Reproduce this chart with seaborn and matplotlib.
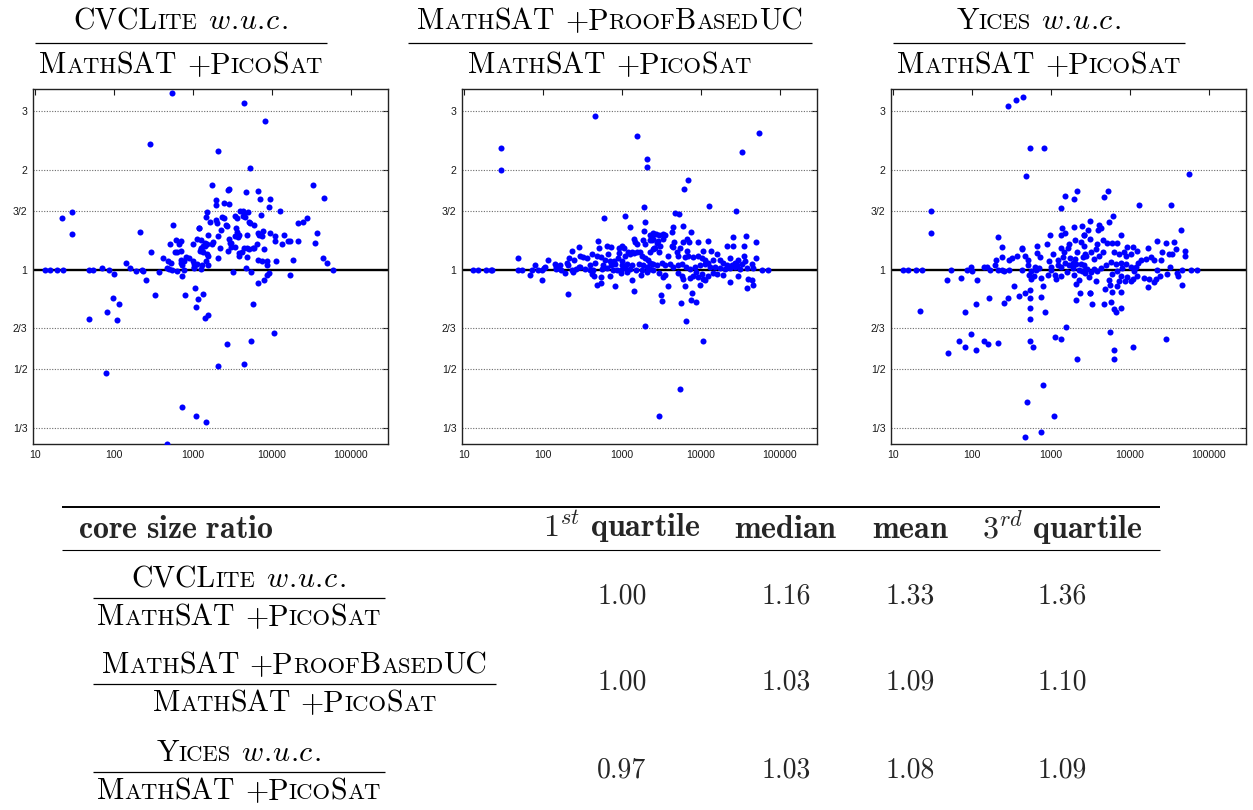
import matplotlib
matplotlib.use("Agg")
import matplotlib.pyplot as plt
import seaborn as sns
import pandas as pd
from matplotlib.lines import Line2D
from matplotlib.transforms import IdentityTransform
from matplotlib.ticker import FixedLocator, FixedFormatter, NullLocator

# ---------------- data ----------------
cvclite_size = [547, 4380, 8240, 285, 2090, 5320, 1740, 33000, 2750, 2860, 6650, 4690, 6980, 9340, 45500,
                1940, 1940, 2470, 2860, 9250, 12500, 3940, 4260, 4970, 1490, 4470, 29.4, 22.0, 1460, 2350,
                1950, 3400, 3640, 4340, 7190, 4590, 1640, 2010, 2470, 5160, 5270, 21500, 24700, 28000, 5970,
                2590, 2670, 553, 1200, 2260, 3500, 3600, 3820, 213, 29.7, 1550, 2050, 2830, 2940, 3430,
                3680, 4830, 6650, 6780, 7550, 7770, 9530, 10800, 10800, 14300, 15800, 16900, 21300, 37500, 35400,
                13500, 6400, 8000, 4420, 4880, 5800, 6000, 5160, 4830, 3790, 3850, 4150, 3430, 3060, 2800,
                3000, 2200, 2090, 1770, 1740, 1400, 1270, 1110, 1190, 1490, 1400, 1260, 1210, 1320, 1520,
                1560, 1340, 1270, 1010, 610, 698, 659, 511, 597, 620, 706, 291, 421, 487, 525,
                535, 464, 504, 711, 725, 776, 807, 890, 1010, 1030, 1030, 1020, 1110, 1290, 1260,
                1450, 1560, 634, 776, 702, 142, 160, 71, 87.3, 101, 190, 224, 235, 372, 252,
                334, 725, 791, 1050, 1150, 1320, 1100, 1420, 1560, 3220, 4690, 5420, 6590, 5700, 7920,
                8650, 9050, 8720, 7550, 6700, 8650, 11100, 16700, 18300, 44200, 49700, 59200, 48.7, 80.7, 109,
                98, 116, 80.3, 725, 1090, 1460, 464, 2090, 2700, 4380, 5380, 10600,
                13.3, 15.3, 19.2, 22.8, 47.8, 54.2]
cvclite_ratio = [3.40, 3.17, 2.81, 2.39, 2.28, 2.02, 1.80, 1.80, 1.74, 1.75, 1.72, 1.71, 1.63, 1.63, 1.64,
                 1.62, 1.57, 1.59, 1.58, 1.54, 1.50, 1.505, 1.505, 1.495, 1.49, 1.48, 1.495, 1.43, 1.44, 1.44,
                 1.41, 1.45, 1.43, 1.45, 1.46, 1.44, 1.39, 1.38, 1.43, 1.39, 1.38, 1.38, 1.39, 1.43, 1.36,
                 1.36, 1.35, 1.36, 1.33, 1.32, 1.33, 1.30, 1.27, 1.30, 1.28, 1.27, 1.26, 1.24, 1.20, 1.26,
                 1.25, 1.27, 1.29, 1.27, 1.26, 1.31, 1.29, 1.26, 1.22, 1.27, 1.22, 1.22, 1.22, 1.29, 1.20,
                 1.19, 1.19, 1.15, 1.16, 1.16, 1.16, 1.16, 1.15, 1.09, 1.12, 1.10, 1.13, 1.17, 1.17, 1.14,
                 1.20, 1.16, 1.08, 1.21, 1.19, 1.20, 1.23, 1.24, 1.33, 1.19, 1.18, 1.16, 1.14, 1.18, 1.11,
                 1.10, 1.13, 1.15, 1.19, 1.23, 1.22, 1.19, 1.19, 1.13, 1.13, 1.14, 1.13, 1.08, 1.06, 1.05,
                 1.00, 1.01, 1.005, 1.05, 1.03, 1.06, 1.09, 1.08, 1.06, 1.04, 1.02, 1.01, 1.04, 1.03, 1.005,
                 1.06, 1.035, 0.99, 0.995, 1.07, 1.05, 1.01, 1.01, 1.00, 0.97, 0.99, 1.00, 0.99, 0.98, 0.927,
                 0.84, 0.953, 0.839, 0.877, 0.816, 0.845, 0.770, 0.714, 0.729, 0.98, 1.01, 0.98, 0.910, 0.788, 0.929,
                 0.961, 0.977, 1.03, 1.06, 1.07, 1.06, 1.06, 0.966, 1.07, 1.08, 1.05, 1.00, 0.711, 0.744, 0.704,
                 0.820, 0.788, 0.489, 0.385, 0.361, 0.346, 0.299, 0.512, 0.597, 0.520, 0.610, 0.642,
                 1.0, 1.0, 1.0, 1.0, 1.0, 1.0]

proofbased_size = [1920, 592, 1080, 1250, 1950, 1920, 2490, 2420, 2240, 2520,
                   492, 286, 235, 652, 733, 516, 1000, 1050, 907, 907, 1430, 1450, 1550, 1970, 1840,
                   48.7, 115, 79.3, 142, 163, 147, 201, 213, 249, 291, 318, 364, 421, 483, 460, 537, 604, 671,
                   705, 792, 890, 990, 1080, 1190, 1250, 1330, 1420, 1550, 1690, 1790, 1970, 2130, 2260, 2490,
                   48.7, 53.7, 72, 85.5, 96, 104, 145, 169, 231, 262, 294, 340, 394, 434, 553, 640, 762, 856,
                   962, 1090, 1260, 1500, 1770, 2050, 2240, 2450,
                   106, 153, 205, 283, 394, 580, 733, 815, 1010, 1150, 1350, 1620, 1860, 2380,
                   69, 98, 190, 238, 413, 438, 542, 478, 537, 705, 815, 962, 1150, 1350, 1420, 1740, 2050,
                   207, 1970,
                   12700, 27700, 4690, 5320, 5920, 4380, 4290, 7470,
                   2440, 2260, 2670, 2970, 3340, 3540, 2440, 2880, 3270, 2750, 3030, 2620, 4550, 4250, 4380,
                   6710, 7110, 5970, 9160, 12400, 25200, 21500, 25600, 37200, 35400, 49700,
                   5420, 6650, 10700, 13300, 15800, 2940, 3860, 4920, 5160, 6270, 6920, 8000, 9250, 10200,
                   11200, 12400, 14300, 17400, 19200, 23300, 26900, 29700, 35400, 49700, 43700, 36100, 32700,
                   28800, 24400, 21100,
                   2260, 2500, 2750, 3170, 3500, 4050, 4470, 5160, 5690, 6460, 7260, 8400, 9710, 11200, 13000,
                   15000, 17400, 20100, 23300, 26900, 31200, 37900, 45100, 58600, 71200,
                   2940, 3500, 3340, 5160, 5810, 5970, 7260, 8000, 9250, 10700, 12400, 14300, 15800, 18800,
                   8650, 10200, 11200, 3790, 6270, 9710, 23100, 29400, 39700, 43700, 45500, 37900, 3120, 3250,
                   7760, 7470, 8650, 5640, 6520,
                   29.4, 29.4, 459, 1530, 2070, 2090, 54800, 33000, 6910, 6090, 10600, 5470, 2910,
                   13.1, 15.2, 19.0, 21.8, 22.8]
proofbased_ratio = [1.54, 1.43, 1.45, 1.34, 1.39, 1.31, 1.28, 1.23, 1.23, 1.16,
                    1.22, 1.17, 1.14, 1.18, 1.17, 1.16, 1.18, 1.16, 1.16, 1.125, 1.24, 1.21, 1.19, 1.19, 1.23,
                    1.08, 1.07, 1.03, 1.04, 1.03, 1.02, 1.05, 1.08, 1.07, 1.10, 1.09, 1.08, 1.11, 1.10, 1.05,
                    1.09, 1.07, 1.11,
                    1.06, 1.06, 1.08, 1.06, 1.10, 1.13, 1.11, 1.13, 1.12, 1.13, 1.13, 1.10, 1.08, 1.07, 1.13, 1.15,
                    1.0, 1.0, 1.0, 1.0, 1.0, 1.01, 1.005, 1.0, 1.0, 1.005, 1.015, 1.005, 1.0, 1.0, 1.005, 1.01,
                    1.0, 1.0, 1.0, 1.01, 1.005, 1.0, 1.0, 1.015, 1.005, 1.0,
                    1.015, 1.01, 1.03, 1.015, 1.03, 1.035, 1.03, 1.04, 1.03, 1.04, 1.03, 1.04, 1.03, 1.04,
                    0.961, 0.927, 0.973, 0.986, 0.97, 0.953, 0.948, 0.897, 0.912, 0.953, 0.889, 0.977, 0.982,
                    0.931, 0.859, 0.961, 0.982,
                    0.845, 0.678,
                    1.55, 1.50, 1.48, 1.47, 1.35, 1.34, 1.30, 1.30,
                    1.29, 1.27, 1.28, 1.27, 1.28, 1.27, 1.24, 1.22, 1.24, 1.20, 1.18, 1.16, 1.21, 1.18, 1.17,
                    1.24, 1.21, 1.21, 1.21, 1.22, 1.25, 1.18, 1.18, 1.26, 1.18, 1.21,
                    1.16, 1.14, 1.14, 1.14, 1.11, 1.13, 1.10, 1.13, 1.10, 1.09, 1.10, 1.09, 1.10, 1.08,
                    1.07, 1.05, 1.065, 1.07, 1.05, 1.08, 1.05, 1.07, 1.10, 1.08, 1.04, 1.06, 1.04,
                    1.03, 1.03, 1.03,
                    1.05, 1.04, 1.03, 1.05, 1.03, 1.04, 1.015, 1.03, 1.04, 1.015, 1.005, 1.015, 1.03, 1.04, 1.015,
                    1.015, 1.01, 1.005, 1.01, 1.015, 1.005, 1.01, 1.01, 1.0, 1.0,
                    0.977, 0.964, 0.948, 0.977, 0.955, 0.937, 0.942, 0.955, 0.948, 0.937, 0.959, 0.977, 0.970,
                    0.966, 0.982, 0.970, 0.927, 0.895, 0.891, 0.899, 0.916, 0.959, 0.937, 0.927, 0.899, 0.878,
                    0.839, 0.803, 0.849, 0.812, 0.797, 0.792, 0.699,
                    2.33, 2.0, 2.90, 2.53, 2.15, 2.03, 2.58, 2.26, 1.86, 1.75, 0.608, 0.436, 0.361,
                    1.0, 1.0, 1.0, 1.0, 1.0]

yices_size = [286, 361, 442, 548, 824, 487, 55800, 30.0, 30.0, 22, 48.7, 72.6, 54, 13.5, 15.4, 19.4, 23.1,
              49.2, 69.2, 80.7, 97, 111, 143, 158, 211, 80.7, 111, 115, 164, 257, 288, 337, 394, 473, 548,
              548, 548, 548, 548, 592, 740, 832, 783, 497, 1100, 740, 464, 1110, 1340, 1550, 2110, 2050,
              2310, 3080, 3340, 4690, 5520, 5740, 5860, 6210, 6210, 6350, 6680, 7620, 7620, 10800, 28300,
              45100, 71200, 43700, 33000, 12900, 5250, 4730, 2110, 1960, 1490, 1330, 6100, 5420, 4050,
              3900, 3080, 2910, 1960, 982, 215,
              87.3, 96, 99, 142, 156, 169, 213, 238, 238, 238, 203, 194, 291, 324, 372, 291, 254, 425, 425,
              469, 434, 517, 512, 527, 553, 553, 610, 634, 640, 659, 671, 705, 726, 740, 800, 899, 925, 933,
              991, 1010, 1070, 1130, 1170, 1220, 1230, 1330, 1330, 1330, 1330, 1390, 1430, 1460, 1490,
              1610, 1500, 1640, 1670, 1690, 1720, 1900, 1940, 2100, 2240, 2380, 2520, 2620, 2130, 2690,
              2620, 2720, 2690, 2380, 2290, 2080, 2000, 2000, 1880,
              4250, 2500, 2620, 3120, 3860, 4590, 5160, 5970, 6780, 7620, 9250, 10900, 12400, 16900, 22000,
              25400, 28300, 36000, 37900, 34400, 31200, 49700, 49700, 32100, 45900, 59100,
              39000, 40900, 29700, 23800, 20000, 17100, 15000, 21800, 24400, 20100, 18300, 15800, 13600,
              12600, 11800, 11200, 12100, 11000, 10200, 9250, 8650, 7760, 7260, 6780, 5580, 5370, 5920,
              6920, 8000, 8810, 10200, 7620, 6590, 5690, 4920, 4250, 3860, 3500, 3170, 2880, 2620, 2440,
              3500, 4050, 4590, 3170, 2750, 3670, 6270, 7260, 8400, 8810, 10200, 3030, 3670, 4830, 3120,
              21300, 17400]
yices_ratio = [3.10, 3.25, 3.31, 2.32, 2.33, 1.91, 1.94, 1.50, 1.29, 0.751, 0.929, 0.944, 1.0, 1.0, 1.0, 1.0, 1.0,
               0.561, 0.611, 0.586, 0.640, 0.574, 0.611, 0.596, 0.600, 0.747, 0.788, 0.933, 0.820, 0.794,
               0.822, 0.889, 0.835, 0.849, 0.865, 0.820, 0.765, 0.707, 0.607, 0.585, 0.824, 0.746, 0.449,
               0.400, 0.363, 0.324, 0.313, 0.624, 0.618, 0.671, 0.537, 0.812,
               0.847, 0.847, 0.785, 0.785, 0.647, 0.797, 0.855, 0.572, 0.538, 0.762, 0.744, 0.765, 0.855,
               0.585, 0.618, 0.899, 1.0, 1.32, 1.57, 1.57, 1.72, 1.65, 1.72, 1.63, 1.66, 1.53, 1.45, 1.39,
               1.36, 1.32, 1.40, 1.32, 1.34, 1.27, 1.25,
               1.0, 1.02, 0.989, 1.016, 1.016, 1.0, 1.0, 1.0, 1.17, 1.09, 1.07, 1.03, 1.07, 1.08, 1.10, 1.0,
               0.989, 1.16, 1.15, 1.10, 1.0, 1.065, 1.03, 0.966, 0.993, 0.937, 0.959, 1.02, 0.997, 1.12,
               1.18, 1.01, 1.09, 0.942, 0.895, 1.19, 0.964, 1.06, 1.02, 1.0, 1.11, 0.964, 0.937, 1.065,
               1.03, 1.27, 1.16, 1.02, 0.955, 1.33, 1.09, 1.13, 1.05, 0.986, 1.29, 1.16, 1.19, 1.03, 1.08,
               1.01, 0.964, 1.04, 1.0, 1.04, 1.09, 1.27, 1.13, 1.11, 1.18, 0.977, 1.0, 1.21, 0.927, 0.903,
               1.23, 1.077, 1.05,
               1.33, 1.35, 1.27, 1.24, 1.19, 1.23, 1.20, 1.20, 1.20, 1.27, 1.17, 1.17, 1.14, 1.16, 1.22,
               1.13, 1.20, 1.21, 1.15, 1.11, 1.11, 1.14, 1.10, 1.02, 1.0, 1.0,
               0.977, 0.959, 0.968, 0.955, 0.920, 0.885, 0.942, 1.0, 1.065, 1.07, 1.09, 1.077, 1.065,
               1.05, 1.02, 0.993, 0.959, 0.937, 0.926, 0.948, 0.926, 0.953, 0.926, 0.895, 0.899, 0.931,
               0.970, 0.993, 1.01, 1.04, 1.02, 1.05, 1.04, 1.057, 1.03, 1.014, 0.993, 1.005, 0.982, 1.005,
               1.03, 0.993, 1.077, 1.10, 1.13, 1.13, 1.10, 1.15, 1.13, 1.11, 1.13, 1.10, 1.11, 0.948, 0.926,
               0.875, 0.849, 0.937, 0.937]

x_ticks = [10, 100, 1000, 10000, 100000]
x_tick_labels = ["10", "100", "1000", "10000", "100000"]
y_ticks = [1/3, 1/2, 2/3, 1, 3/2, 2, 3]
y_tick_labels = ["1/3", "1/2", "2/3", "1", "3/2", "2", "3"]

table_q1 = ["1.00", "1.00", "0.97"]
table_median = ["1.16", "1.03", "1.03"]
table_mean = ["1.33", "1.09", "1.08"]
table_q3 = ["1.36", "1.10", "1.09"]

# label pieces: N = roman, S = small caps, I = math italic, G = inter-word space
WUC = [(" ", "G"), ("w", "I"), (".", "N"), ("u", "I"), (".", "N"), ("c", "I"), (".", "N")]
CVCLITE = [("CVCL", "N"), ("ITE", "S")] + WUC
YICES = [("Y", "N"), ("ICES", "S")] + WUC
PROOF = [("M", "N"), ("ATH", "S"), ("SAT", "N"), (" ", "G"), ("+P", "N"), ("ROOF", "S"), ("B", "N"),
         ("ASED", "S"), ("UC", "N")]
PICO = [("M", "N"), ("ATH", "S"), ("SAT", "N"), (" ", "G"), ("+P", "N"), ("ICO", "S"), ("S", "N"),
        ("AT", "S")]

# ---------------- figure ----------------
W, H = 1253, 810
sns.set_style("white")
plt.rcParams['font.family'] = ['Liberation Sans', 'DejaVu Sans']
fig = plt.figure(figsize=(W / 100, H / 100), dpi=100)

panels = [(cvclite_size, cvclite_ratio, 33), (proofbased_size, proofbased_ratio, 462),
          (yices_size, yices_ratio, 891)]
AX_TOP, AX_SIZE = 89, 355

for sizes, ratios, left in panels:
    ax = fig.add_axes([left / W, 1 - (AX_TOP + AX_SIZE) / H, AX_SIZE / W, AX_SIZE / H])
    df = pd.DataFrame({"size": sizes, "ratio": ratios})
    for yt in y_ticks:
        if yt != 1:
            ax.axhline(yt, color="#6a6a6a", lw=0.8, ls=(0, (1, 1.4)), zorder=1)
    ax.axhline(1, color="black", lw=1.7, zorder=2)
    sns.scatterplot(data=df, x="size", y="ratio", ax=ax, color="#0000ff", s=19,
                    linewidth=0, legend=False, zorder=3)
    ax.set_xscale("log")
    ax.set_yscale("log", base=2)
    ax.set_xlim(9.44, 294000)
    ax.set_ylim(0.298, 3.50)
    ax.xaxis.set_major_locator(FixedLocator(x_ticks))
    ax.xaxis.set_major_formatter(FixedFormatter(x_tick_labels))
    ax.xaxis.set_minor_locator(NullLocator())
    ax.yaxis.set_major_locator(FixedLocator(y_ticks))
    ax.yaxis.set_major_formatter(FixedFormatter(y_tick_labels))
    ax.yaxis.set_minor_locator(NullLocator())
    ax.set_xlabel("")
    ax.set_ylabel("")
    ax.tick_params(direction="in", length=4, width=0.8, top=True, right=True,
                   labelsize=7.6, colors="#1a1a1a", pad=4)
    for sp in ax.spines.values():
        sp.set_color("#222222")
        sp.set_linewidth(1.0)

# ---------------- text helpers ----------------
renderer = fig.canvas.get_renderer()
SC = 0.76


def piece_props(kind, size):
    if kind == "I":
        return dict(size=size, math_fontfamily="cm")
    if kind == "S":
        return dict(family="cmr10", size=size * SC)
    return dict(family="cmr10", size=size)


def draw_label(parts, size, cx, baseline):
    """Lay out small-caps pieces side by side, centred on cx, baseline at pixel row `baseline`."""
    items = []
    total = 0.0
    for text, kind in parts:
        if kind == "G":
            w = size * 100 / 72 * 0.333
            items.append((None, w))
        else:
            s = "$%s$" % text if kind == "I" else text
            t = fig.text(0, 0, s, transform=IdentityTransform(), ha="left", va="baseline",
                         color="black", **piece_props(kind, size))
            w = t.get_window_extent(renderer).width
            items.append((t, w))
        total += w
    x = cx - total / 2
    for t, w in items:
        if t is not None:
            t.set_position((x, H - baseline))
        x += w


def hrule(x0, x1, y, lw):
    fig.add_artist(Line2D([x0 / W, x1 / W], [1 - y / H, 1 - y / H], transform=fig.transFigure,
                          color="black", lw=lw, solid_capstyle="butt"))


FS = 21.5


def fraction(num, den, x0, x1, y_rule, num_gap, den_gap):
    cx = (x0 + x1) / 2
    hrule(x0, x1, y_rule, 0.9)
    draw_label(num, FS, cx, y_rule - num_gap)
    draw_label(den, FS, cx, y_rule + den_gap)


# panel titles
fraction(CVCLITE, PICO, 35, 327, 43, 14, 30)
fraction(PROOF, PICO, 408, 812, 43, 14, 30)
fraction(YICES, PICO, 893, 1185, 43, 14, 30)

# ---------------- table ----------------
hrule(62, 1160, 507, 1.4)
hrule(62, 1160, 550, 0.8)
TS = 20
HS = 23
hdr_y = H - 538
fig.text(78 / W, hdr_y / H, r"$\mathbf{core\ size\ ratio}$", math_fontfamily="cm", size=HS,
         ha="left", va="baseline")
col_x = [622, 786, 910, 1062]
headers = [r"$1^{st}\ \mathbf{quartile}$", r"$\mathbf{median}$", r"$\mathbf{mean}$",
           r"$3^{rd}\ \mathbf{quartile}$"]
for cxp, htxt in zip(col_x, headers):
    fig.text(cxp / W, hdr_y / H, htxt, math_fontfamily="cm", size=HS, ha="center", va="baseline")

row_rules = [598, 684, 772]
row_labels = [CVCLITE, PROOF, YICES]
row_right = [385, 496, 385]
for i, (yr, lab, xr) in enumerate(zip(row_rules, row_labels, row_right)):
    fraction(lab, PICO, 93, xr, yr, 11, 27)
    vals = [table_q1[i], table_median[i], table_mean[i], table_q3[i]]
    for cxp, v in zip(col_x, vals):
        fig.text(cxp / W, (H - (yr + 6)) / H, v, family="cmr10", size=TS, ha="center", va="baseline")

fig.savefig("out.png", dpi=100)
